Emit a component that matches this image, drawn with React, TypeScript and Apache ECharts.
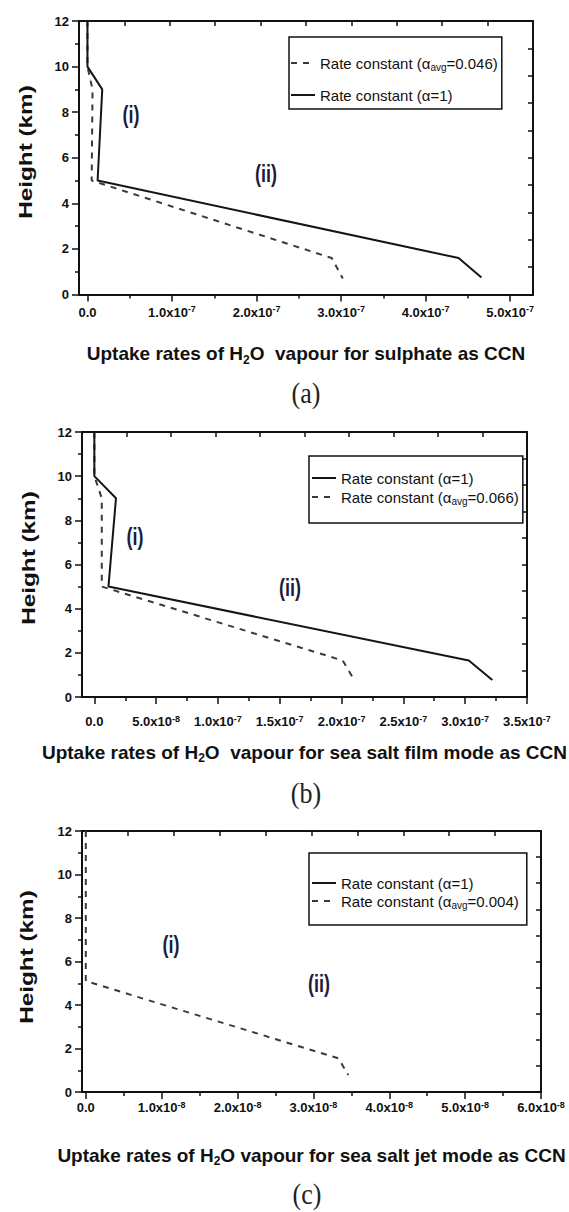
import React, { useEffect, useRef } from "react";
import * as echarts from "echarts";

// ---------- data ----------
const heightMin = 0;
const heightMax = 12;
const heightStep = 2;

const legendSolid = "Rate constant (α=1)";

// (a) sulphate
const aXTicks = [0, 1e-7, 2e-7, 3e-7, 4e-7, 5e-7];
const aXMinor = [0.5e-7, 1.5e-7, 2.5e-7, 3.5e-7, 4.5e-7];
const aXRange = [-0.1e-7, 5.27e-7];
const aSolidHeight = [12, 10, 9, 5, 1.6, 0.75];
const aSolidRate = [0, 0, 0.175e-7, 0.12e-7, 4.39e-7, 4.66e-7];
const aDashHeight = [12, 10, 9, 5, 1.6, 0.7];
const aDashRate = [0, 0, 0.06e-7, 0.05e-7, 2.89e-7, 3.02e-7];
const aDashName = "Rate constant (αavg=0.046)";
const aXTitle = "Uptake rates of H{sub|2}O  vapour for sulphate as CCN";

// (b) sea salt film mode
const bXTicks = [0, 0.5e-7, 1e-7, 1.5e-7, 2e-7, 2.5e-7, 3e-7, 3.5e-7];
const bXMinor = [0.25e-7, 0.75e-7, 1.25e-7, 1.75e-7, 2.25e-7, 2.75e-7, 3.25e-7];
const bXRange = [-0.1e-7, 3.5e-7];
const bSolidHeight = [12, 10, 9, 5, 1.65, 0.77];
const bSolidRate = [0, 0, 0.175e-7, 0.114e-7, 3.03e-7, 3.22e-7];
const bDashHeight = [12, 10, 9, 5, 1.65, 0.8];
const bDashRate = [0, 0, 0.06e-7, 0.06e-7, 2.01e-7, 2.1e-7];
const bDashName = "Rate constant (αavg=0.066)";
const bXTitle = "Uptake rates of H{sub|2}O  vapour for sea salt film mode as CCN";

// (c) sea salt jet mode
const cXTicks = [0, 1e-8, 2e-8, 3e-8, 4e-8, 5e-8, 6e-8];
const cXMinor = [0.5e-8, 1.5e-8, 2.5e-8, 3.5e-8, 4.5e-8, 5.5e-8];
const cXRange = [-0.05e-8, 6e-8];
const cSolidHeight: number[] = [];
const cSolidRate: number[] = [];
const cDashHeight = [12, 5.1, 1.55, 0.78];
const cDashRate = [0, 0, 3.33e-8, 3.46e-8];
const cDashName = "Rate constant (αavg=0.004)";
const cXTitle = "Uptake rates of H{sub|2}O vapour for sea salt jet mode as CCN";

// ---------- styling ----------
const SANS = "'Liberation Sans', Arial, sans-serif";
const SERIF = "'Liberation Serif', 'Times New Roman', serif";
const INK = "#111";

function fmtRate(v: number): string {
  if (Math.abs(v) < 1e-15) return "0.0";
  const e = Math.floor(Math.log10(Math.abs(v)) + 1e-9);
  const m = v / Math.pow(10, e);
  return `${m.toFixed(1)}x10{sup|-${-e}}`;
}

function legendFmt(name: string): string {
  return name.replace("avg", "{sub|avg}");
}

type Panel = {
  grid: { left: number; top: number; width: number; height: number };
  xTicks: number[];
  xMinor: number[];
  xRange: number[];
  labelMargin: number;
  xTitle: string;
  nameGap: number;
  solid: { h: number[]; r: number[] };
  dash: { h: number[]; r: number[]; name: string };
  legendOrder: string[];
  legend: { left: number; top: number; gap: number; padding: number[] };
};

const panels: Panel[] = [
  {
    grid: { left: 79, top: 21, width: 454, height: 273.5 },
    xTicks: aXTicks, xMinor: aXMinor, xRange: aXRange, labelMargin: 10,
    xTitle: aXTitle, nameGap: 47,
    solid: { h: aSolidHeight, r: aSolidRate },
    dash: { h: aDashHeight, r: aDashRate, name: aDashName },
    legendOrder: [aDashName, legendSolid],
    legend: { left: 289, top: 37, gap: 14, padding: [17, 4, 5, 1] },
  },
  {
    grid: { left: 82, top: 432, width: 454, height: 265 },
    xTicks: bXTicks, xMinor: bXMinor, xRange: bXRange, labelMargin: 17,
    xTitle: bXTitle, nameGap: 43,
    solid: { h: bSolidHeight, r: bSolidRate },
    dash: { h: bDashHeight, r: bDashRate, name: bDashName },
    legendOrder: [legendSolid, bDashName],
    legend: { left: 309, top: 456, gap: 1, padding: [13, 4, 17, 2] },
  },
  {
    grid: { left: 82, top: 831, width: 459, height: 261 },
    xTicks: cXTicks, xMinor: cXMinor, xRange: cXRange, labelMargin: 8,
    xTitle: cXTitle, nameGap: 51,
    solid: { h: cSolidHeight, r: cSolidRate },
    dash: { h: cDashHeight, r: cDashRate, name: cDashName },
    legendOrder: [legendSolid, cDashName],
    legend: { left: 309, top: 853, gap: 0, padding: [21, 8, 15, 2] },
  },
];

const romanLabels = [
  { x: 131, y: 115, t: "(i)" }, { x: 266, y: 174, t: "(ii)" },
  { x: 135, y: 537, t: "(i)" }, { x: 290, y: 588, t: "(ii)" },
  { x: 171, y: 945, t: "(i)" }, { x: 319, y: 984, t: "(ii)" },
];
const captions = [
  { x: 306, y: 393, t: "(a)" },
  { x: 306, y: 793, t: "(b)" },
  { x: 307, y: 1194, t: "(c)" },
];
const yTitles = [
  { x: 26, y: 152, t: "Height (km)" },
  { x: 29, y: 558, t: "Height (km)" },
  { x: 27, y: 957, t: "Height (km)" },
];

function buildOption() {
  const grids: any[] = [];
  const xAxes: any[] = [];
  const yAxes: any[] = [];
  const series: any[] = [];
  const legends: any[] = [];
  const line = { color: INK, width: 2 };
  const tickLine = { color: INK, width: 1.5 };

  panels.forEach((p, i) => {
    grids.push({ ...p.grid, containLabel: false });
    xAxes.push({
      gridIndex: i, type: "value", position: "bottom",
      min: p.xRange[0], max: p.xRange[1],
      axisLine: { show: true, onZero: false, lineStyle: line },
      axisTick: { show: true, inside: false, length: 7, lineStyle: tickLine, customValues: p.xTicks },
      axisLabel: {
        show: true, customValues: p.xTicks, formatter: fmtRate, margin: p.labelMargin,
        fontSize: 13, fontWeight: "bold", fontFamily: SANS, color: INK, lineHeight: 15,
        rich: { sup: { fontSize: 9, fontWeight: "bold", fontFamily: SANS, color: INK, verticalAlign: "top", lineHeight: 9 } },
      },
      splitLine: { show: false },
      name: p.xTitle, nameLocation: "middle", nameGap: p.nameGap,
      nameTextStyle: {
        fontSize: 19, fontWeight: "bold", fontFamily: SANS, color: INK, lineHeight: 24,
        rich: { sub: { fontSize: 12, fontWeight: "bold", fontFamily: SANS, color: INK, verticalAlign: "bottom", lineHeight: 14 } },
      },
    });
    xAxes.push({
      gridIndex: i, type: "value", position: "bottom",
      min: p.xRange[0], max: p.xRange[1],
      axisLine: { show: false },
      axisTick: { show: true, inside: false, length: 4, lineStyle: tickLine, customValues: p.xMinor },
      axisLabel: { show: false },
      splitLine: { show: false },
    });
    xAxes.push({
      gridIndex: i, type: "value", position: "top", min: 0, max: 10, interval: 1,
      axisLine: { show: true, onZero: false, lineStyle: line },
      axisTick: { show: true, inside: true, length: 5, lineStyle: tickLine },
      axisLabel: { show: false },
      splitLine: { show: false },
    });
    yAxes.push({
      gridIndex: i, type: "value", position: "left",
      min: heightMin, max: heightMax, interval: heightStep,
      axisLine: { show: true, onZero: false, lineStyle: line },
      axisTick: { show: true, inside: false, length: 7, lineStyle: tickLine },
      minorTick: { show: true, splitNumber: 2, length: 4, lineStyle: tickLine },
      axisLabel: { show: true, margin: 10, fontSize: 13, fontWeight: "bold", fontFamily: SANS, color: INK },
      splitLine: { show: false },
      minorSplitLine: { show: false },
    });
    yAxes.push({
      gridIndex: i, type: "value", position: "right", min: 0, max: 10, interval: 1,
      axisLine: { show: true, onZero: false, lineStyle: line },
      axisTick: { show: true, inside: true, length: 5, lineStyle: tickLine },
      axisLabel: { show: false },
      splitLine: { show: false },
    });
    series.push({
      type: "line", name: legendSolid,
      xAxisIndex: 3 * i, yAxisIndex: 2 * i,
      data: p.solid.h.map((h, k) => [p.solid.r[k], h]),
      symbol: "none", silent: true, z: 3,
      lineStyle: { color: "#151515", width: 2, type: "solid" },
      itemStyle: { color: "#151515" },
    });
    series.push({
      type: "line", name: p.dash.name,
      xAxisIndex: 3 * i, yAxisIndex: 2 * i,
      data: p.dash.h.map((h, k) => [p.dash.r[k], h]),
      symbol: "none", silent: true, z: 2,
      lineStyle: { color: "#3a3a3a", width: 2, type: [6, 6] },
      itemStyle: { color: "#3a3a3a" },
    });
    legends.push({
      left: p.legend.left, top: p.legend.top, orient: "vertical",
      data: p.legendOrder, itemWidth: 24, itemHeight: 12, itemGap: p.legend.gap,
      padding: p.legend.padding, borderColor: INK, borderWidth: 1.5,
      backgroundColor: "#fff", selectedMode: false,
      itemStyle: { opacity: 0, borderWidth: 0 },
      formatter: legendFmt,
      textStyle: {
        fontSize: 15, fontFamily: SANS, color: INK, lineHeight: 18,
        rich: { sub: { fontSize: 10, fontFamily: SANS, color: INK, verticalAlign: "bottom", lineHeight: 10 } },
      },
    });
  });

  const graphic: any[] = [];
  romanLabels.forEach((r) => graphic.push({
    type: "text", x: r.x, y: r.y, scaleY: 1.3, silent: true,
    style: { text: r.t, fontSize: 18, fontWeight: "bold", fontFamily: SANS, fill: "#1c1c3a", align: "center", verticalAlign: "middle" },
  }));
  captions.forEach((c) => graphic.push({
    type: "text", x: c.x, y: c.y, scaleY: 1.15, silent: true,
    style: { text: c.t, fontSize: 26, fontFamily: SERIF, fill: "#222", align: "center", verticalAlign: "middle" },
  }));
  yTitles.forEach((t) => graphic.push({
    type: "text", x: t.x, y: t.y, rotation: Math.PI / 2, scaleX: 1.35, silent: true,
    style: { text: t.t, fontSize: 18, fontWeight: "bold", fontFamily: SANS, fill: INK, align: "center", verticalAlign: "middle" },
  }));

  return {
    animation: false,
    backgroundColor: "#fff",
    grid: grids,
    xAxis: xAxes,
    yAxis: yAxes,
    legend: legends,
    series,
    graphic,
  };
}

export default function App() {
  const ref = useRef<HTMLDivElement>(null);
  useEffect(() => {
    if (!ref.current) return;
    const chart = echarts.init(ref.current, undefined, { renderer: "svg" });
    chart.setOption(buildOption() as any);
    return () => chart.dispose();
  }, []);
  return (
    <div
      ref={ref}
      style={{ position: "absolute", left: 0, top: 0, width: 569, height: 1212, background: "#fff" }}
    />
  );
}
